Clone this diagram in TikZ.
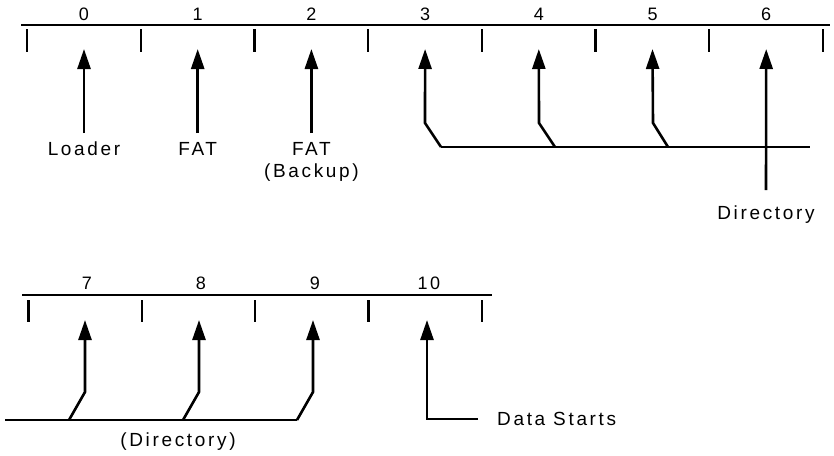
\documentclass[tikz,border=0pt]{standalone}
\usepackage{fontspec}
\setmainfont{Liberation Sans}[LetterSpace=14]
\usepackage{tikz}
\usetikzlibrary{arrows.meta,positioning}
\tikzstyle{rule} = [draw, line width=1.8pt]
\tikzstyle{tick} = [draw, line width=2.2pt]
\tikzstyle{line} = [draw, line width=2.6pt, -{Triangle[length=20pt,width=13pt]}]
\tikzstyle{feed} = [draw, line width=2pt]
\tikzstyle{num} = [font=\fontsize{18}{20}\selectfont, inner sep=0pt]
\tikzstyle{desc} = [font=\fontsize{19}{22}\selectfont, align=center, inner sep=0pt]

\begin{document}
\begin{tikzpicture}[x=1pt,y=-1pt]
\useasboundingbox (0,0) rectangle (834,455);

    % Sector rules
    \draw [rule] (21,25) -- (830,25);
    \foreach \x in {0,...,7}
        \draw [tick] ({27+113.7*\x},29) -- ({27+113.7*\x},52);
    \draw [rule] (22,295) -- (492,295);
    \foreach \x in {0,...,4}
        \draw [tick] ({28.5+113.3*\x},300) -- ({28.5+113.3*\x},322);

    % Place nodes
    \foreach \n in {0,...,6} {
        \node [num] (n\n) at ({84+113.7*\n},14) {\n};
        \coordinate (tip\n) at ({84+113.7*\n},49);
    }
    \foreach \n [count=\i from 0] in {7,8,9,10} {
        \node [num] (n\n) at ({87+114*\i},283) {\n};
        \coordinate (tip\n) at ({85+114*\i},320);
    }
    \foreach \n in {0,1,2}
        \coordinate (tail\n) at ({84+113.7*\n},133);
    \coordinate (bend3) at (425,123);  \coordinate (foot3) at (441,147);
    \coordinate (bend4) at (539,123);  \coordinate (foot4) at (555,147);
    \coordinate (bend5) at (653,123);  \coordinate (foot5) at (668,147);
    \coordinate (busend) at (810,147);
    \coordinate (tail6) at (766,190);
    \coordinate (bend7) at (85,392);   \coordinate (foot7) at (69,420);
    \coordinate (bend8) at (199,392);  \coordinate (foot8) at (183,420);
    \coordinate (bend9) at (313,392);  \coordinate (foot9) at (297,420);
    \coordinate (busstart) at (5,420);
    \coordinate (bend10) at (427,419); \coordinate (tail10) at (478,419);

    \node [desc, below=9pt of tail0] (loader) {Loader};
    \node [desc, below=9pt of tail1] (fat) {FAT};
    \node [desc, below=9pt of tail2] (fatcopy) {FAT\\(Backup)};
    \node [desc, below=16pt of tail6] (dir) {Directory};
    \node [desc] (dircont) at (178,442) {(Directory)};
    \node [desc, right=19pt of tail10] (data) {Data Starts};

    % Draw edges
    \foreach \n in {0,1,2}
        \path [line] (tail\n) -- (tip\n);
    \foreach \n in {3,4,5,7,8,9}
        \path [line] (foot\n) -- (bend\n) -- (tip\n);
    \path [feed] (foot3) -- (busend);
    \path [line] (tail6) -- (tip6);
    \path [feed] (busstart) -- (foot9);
    \path [line] (tail10) -- (bend10) -- (tip10);

\end{tikzpicture}
\end{document}
